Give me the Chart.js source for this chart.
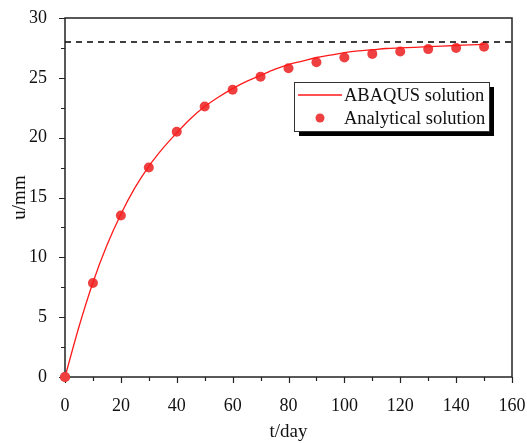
<!DOCTYPE html>
<html>
<head>
<meta charset="utf-8">
<script src="https://cdn.jsdelivr.net/npm/chart.js@4/dist/chart.umd.min.js"></script>
<style>
  html, body { margin: 0; padding: 0; background: #fff; }
  #wrap { width: 527px; height: 443px; }
</style>
</head>
<body>
<div id="wrap"><canvas id="chart" width="527" height="443"></canvas></div>
<script>
// ABAQUS curve (days, mm)
const curveDays = [0, 5, 10, 15, 20, 25, 30, 35, 40, 45, 50, 55, 60, 65, 70, 75, 80, 85, 90, 95, 100, 105, 110, 115, 120, 125, 130, 135, 140, 145, 150];
const curveU = [0, 4.2, 7.9, 11.0, 13.6, 15.8, 17.6, 19.1, 20.4, 21.6, 22.6, 23.4, 24.1, 24.7, 25.2, 25.7, 26.1, 26.4, 26.7, 26.9, 27.1, 27.25, 27.35, 27.45, 27.5, 27.55, 27.6, 27.65, 27.7, 27.75, 27.8];

// analytical solution points
const pointDays = [0, 10, 20, 30, 40, 50, 60, 70, 80, 90, 100, 110, 120, 130, 140, 150];
const pointU = [0, 7.85, 13.5, 17.5, 20.5, 22.6, 24.0, 25.1, 25.8, 26.3, 26.7, 27.0, 27.2, 27.4, 27.5, 27.6];

// final settlement level
const limitU = 28;
const xRange = [0, 160];
const yRange = [0, 30];

const legendLabels = ["ABAQUS solution", "Analytical solution"];
const xTitle = "t/day";
const yTitle = "u/mm";

const red = "#ff1a1a";
const dotRed = "#ee4040";
const serif = "'Liberation Serif', 'Times New Roman', serif";

function toXY(xs, ys) {
    return xs.map(function(x, i) { return { x: x, y: ys[i] }; });
}

// frame, ticks, titles and legend
const framePlugin = {
    id: "frame",
    afterDraw: function(chart) {
        const ctx = chart.ctx;
        const a = chart.chartArea;
        const xs = chart.scales.x;
        const ys = chart.scales.y;
        ctx.save();
        ctx.strokeStyle = "#222";
        ctx.lineWidth = 1.5;
        ctx.strokeRect(a.left, a.top, a.right - a.left, a.bottom - a.top);

        ctx.lineWidth = 1.2;
        ctx.beginPath();
        for (let v = xRange[0]; v <= xRange[1]; v += 10) {
            const px = Math.round(xs.getPixelForValue(v)) + 0.5;
            const len = v % 20 === 0 ? 6 : 4;
            ctx.moveTo(px, a.bottom);
            ctx.lineTo(px, a.bottom + len);
        }
        for (let v = yRange[0]; v <= yRange[1]; v += 2.5) {
            const py = Math.round(ys.getPixelForValue(v)) + 0.5;
            const len = v % 5 === 0 ? 6 : 4;
            ctx.moveTo(a.left, py);
            ctx.lineTo(a.left - len, py);
        }
        ctx.stroke();

        // first analytical point sits on the frame, redraw it on top
        const p0 = chart.getDatasetMeta(2).data[0];
        ctx.fillStyle = dotRed;
        ctx.beginPath();
        ctx.arc(p0.x, p0.y, 5, 0, Math.PI * 2);
        ctx.fill();

        ctx.fillStyle = "#111";
        ctx.font = "19px " + serif;
        ctx.textAlign = "center";
        ctx.textBaseline = "middle";
        ctx.fillText(xTitle, (a.left + a.right) / 2, 432);
        ctx.save();
        ctx.translate(20, (a.top + a.bottom) / 2);
        ctx.rotate(-Math.PI / 2);
        ctx.fillText(yTitle, 0, 0);
        ctx.restore();

        // legend box with drop shadow
        const bx = 294, by = 82, bw = 195, bh = 49;
        ctx.fillStyle = "#000";
        ctx.fillRect(bx + 5, by + 5, bw, bh);
        ctx.fillStyle = "#fff";
        ctx.fillRect(bx, by, bw, bh);
        ctx.strokeStyle = "#333";
        ctx.lineWidth = 1;
        ctx.strokeRect(bx + 0.5, by + 0.5, bw, bh);

        ctx.strokeStyle = red;
        ctx.lineWidth = 1.3;
        ctx.beginPath();
        ctx.moveTo(bx + 4, by + 13);
        ctx.lineTo(bx + 48, by + 13);
        ctx.stroke();
        ctx.fillStyle = dotRed;
        ctx.beginPath();
        ctx.arc(bx + 26, by + 36, 4.5, 0, Math.PI * 2);
        ctx.fill();

        ctx.fillStyle = "#111";
        ctx.font = "18.5px " + serif;
        ctx.textAlign = "left";
        ctx.fillText(legendLabels[0], bx + 50, by + 14);
        ctx.fillText(legendLabels[1], bx + 50, by + 37);
        ctx.restore();
    }
};

const chart = new Chart(document.getElementById("chart"), {
    type: "scatter",
    data: {
        datasets: [
            {
                label: "limit",
                data: [{ x: xRange[0], y: limitU }, { x: xRange[1], y: limitU }],
                showLine: true,
                borderColor: "#000",
                borderWidth: 1.5,
                borderDash: [6, 5],
                pointRadius: 0
            },
            {
                label: legendLabels[0],
                data: toXY(curveDays, curveU),
                showLine: true,
                borderColor: red,
                borderWidth: 1.3,
                cubicInterpolationMode: "monotone",
                pointRadius: 0
            },
            {
                label: legendLabels[1],
                data: toXY(pointDays, pointU),
                showLine: false,
                backgroundColor: dotRed,
                borderColor: dotRed,
                pointRadius: 5,
                pointBorderWidth: 0,
                clip: false
            }
        ]
    },
    options: {
        responsive: false,
        animation: false,
        layout: { padding: { left: 0, right: 15, top: 18, bottom: 0 } },
        plugins: {
            legend: { display: false },
            tooltip: { enabled: false }
        },
        scales: {
            x: {
                type: "linear",
                min: xRange[0],
                max: xRange[1],
                grid: { display: false },
                border: { display: false },
                afterFit: function(scale) {
                    scale.height = 66;
                    scale.paddingLeft = 0;
                    scale.paddingRight = 0;
                },
                ticks: {
                    stepSize: 20,
                    padding: 10,
                    color: "#111",
                    font: { family: serif, size: 18 }
                }
            },
            y: {
                min: yRange[0],
                max: yRange[1],
                grid: { display: false },
                border: { display: false },
                afterFit: function(scale) {
                    scale.width = 65;
                    scale.paddingTop = 0;
                    scale.paddingBottom = 0;
                },
                ticks: {
                    stepSize: 5,
                    padding: 10,
                    color: "#111",
                    font: { family: serif, size: 18 }
                }
            }
        }
    },
    plugins: [framePlugin]
});
</script>
</body>
</html>
